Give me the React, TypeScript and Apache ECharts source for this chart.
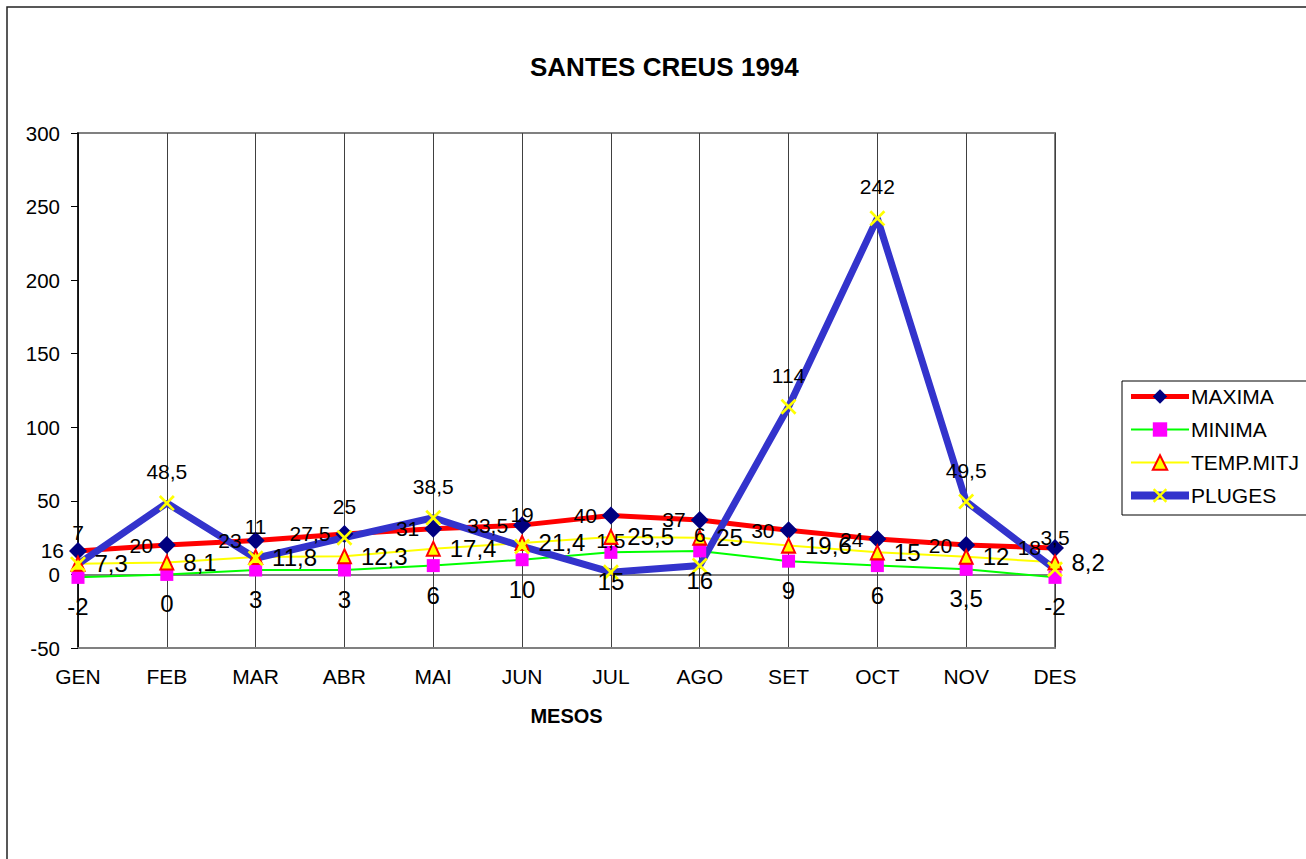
import React, { useEffect, useRef } from "react";
import * as echarts from "echarts";

const months = ["GEN", "FEB", "MAR", "ABR", "MAI", "JUN", "JUL", "AGO", "SET", "OCT", "NOV", "DES"];
const maxima = [16, 20, 23, 27.5, 31, 33.5, 40, 37, 30, 24, 20, 18];
const minima = [-2, 0, 3, 3, 6, 10, 15, 16, 9, 6, 3.5, -2];
const tempMitj = [7.3, 8.1, 11.8, 12.3, 17.4, 21.4, 25.5, 25, 19.6, 15, 12, 8.2];
const pluges = [7, 48.5, 11, 25, 38.5, 19, 1.5, 6, 114, 242, 49.5, 3.5];

const FONT = "'Liberation Sans', Arial, sans-serif";
const X_SYMBOL =
  "path://M0,1.2L1.2,0L5,3.8L8.8,0L10,1.2L6.2,5L10,8.8L8.8,10L5,6.2L1.2,10L0,8.8L3.8,5Z";

const fmt = (p: any) => String(p.value).replace(".", ",");

export default function App() {
  const ref = useRef<HTMLDivElement>(null);
  useEffect(() => {
    if (!ref.current) return;
    const chart = echarts.init(ref.current, null, { renderer: "svg" });
    chart.setOption({
      animation: false,
      backgroundColor: "#fff",
      textStyle: { fontFamily: FONT },
      title: {
        text: "SANTES CREUS 1994",
        left: 530,
        top: 54,
        padding: 0,
        textStyle: { fontFamily: FONT, fontSize: 26, fontWeight: "bold", color: "#000" },
      },
      graphic: [
        {
          type: "rect",
          shape: { x: 7, y: 7, width: 1400, height: 900 },
          style: { fill: "none", stroke: "#222", lineWidth: 1.5 },
          silent: true,
        },
        {
          type: "rect",
          shape: { x: 1122, y: 381, width: 300, height: 134 },
          style: { fill: "none", stroke: "#000", lineWidth: 1 },
          silent: true,
        },
      ],
      legend: {
        orient: "vertical",
        left: 1127,
        top: 386,
        padding: 0,
        itemWidth: 58,
        itemHeight: 18,
        itemGap: 12,
        textStyle: { fontFamily: FONT, fontSize: 21, color: "#000", padding: [0, 0, 0, -3] },
        data: [
          { name: "MAXIMA", lineStyle: { width: 5 } },
          { name: "MINIMA", lineStyle: { width: 2 } },
          { name: "TEMP.MITJ", lineStyle: { width: 2 } },
          { name: "PLUGES", lineStyle: { width: 8 } },
        ],
      },
      grid: {
        left: 78,
        right: 251,
        top: 133,
        bottom: 211,
        show: true,
        borderColor: "#808080",
        borderWidth: 2,
      },
      xAxis: {
        type: "category",
        data: months,
        boundaryGap: false,
        name: "MESOS",
        nameLocation: "middle",
        nameGap: 58,
        nameTextStyle: { fontFamily: FONT, fontSize: 20, fontWeight: "bold", color: "#000" },
        axisLine: { onZero: false, lineStyle: { color: "#808080", width: 2 } },
        axisTick: { show: false },
        axisLabel: { fontFamily: FONT, fontSize: 21, color: "#000", margin: 18 },
        splitLine: { show: true, lineStyle: { color: "#404040", width: 1 } },
      },
      yAxis: {
        type: "value",
        min: -50,
        max: 300,
        interval: 50,
        axisLine: { show: true, lineStyle: { color: "#000", width: 1.5 } },
        axisTick: { show: true, length: 7, lineStyle: { color: "#000" } },
        axisLabel: { fontFamily: FONT, fontSize: 20.5, color: "#000", margin: 18 },
        splitLine: {
          show: true,
          lineStyle: {
            width: 2,
            color: [
              "rgba(0,0,0,0)",
              "#808080",
              "rgba(0,0,0,0)",
              "rgba(0,0,0,0)",
              "rgba(0,0,0,0)",
              "rgba(0,0,0,0)",
              "rgba(0,0,0,0)",
              "#808080",
            ],
          },
        },
      },
      series: [
        {
          name: "MAXIMA",
          type: "line",
          data: maxima,
          symbol: "diamond",
          symbolSize: 18,
          lineStyle: { color: "#FF0000", width: 5 },
          itemStyle: { color: "#000080" },
          label: {
            show: true,
            position: "left",
            distance: 5,
            formatter: fmt,
            fontFamily: FONT,
            fontSize: 21,
            color: "#000",
          },
        },
        {
          name: "MINIMA",
          type: "line",
          data: minima,
          symbol: "rect",
          symbolSize: 13,
          lineStyle: { color: "#00FF00", width: 2 },
          itemStyle: { color: "#FF00FF" },
          label: {
            show: true,
            position: "bottom",
            distance: 11,
            formatter: fmt,
            fontFamily: FONT,
            fontSize: 24,
            color: "#000",
          },
        },
        {
          name: "TEMP.MITJ",
          type: "line",
          data: tempMitj,
          symbol: "triangle",
          symbolSize: [13, 14],
          lineStyle: { color: "#FFFF00", width: 2 },
          itemStyle: { color: "#FFFF00", borderColor: "#FF0000", borderWidth: 2 },
          label: {
            show: true,
            position: "right",
            distance: 9,
            formatter: fmt,
            fontFamily: FONT,
            fontSize: 24,
            color: "#000",
          },
        },
        {
          name: "PLUGES",
          type: "line",
          data: pluges,
          symbol: X_SYMBOL,
          symbolSize: 16,
          lineStyle: { color: "#3333CC", width: 7 },
          itemStyle: { color: "#FFFF00" },
          label: {
            show: true,
            position: "top",
            distance: 13,
            formatter: fmt,
            fontFamily: FONT,
            fontSize: 21,
            color: "#000",
          },
        },
      ],
    });
    return () => chart.dispose();
  }, []);
  return (
    <div
      ref={ref}
      style={{ position: "absolute", left: 0, top: 0, width: 1306, height: 859 }}
    />
  );
}
